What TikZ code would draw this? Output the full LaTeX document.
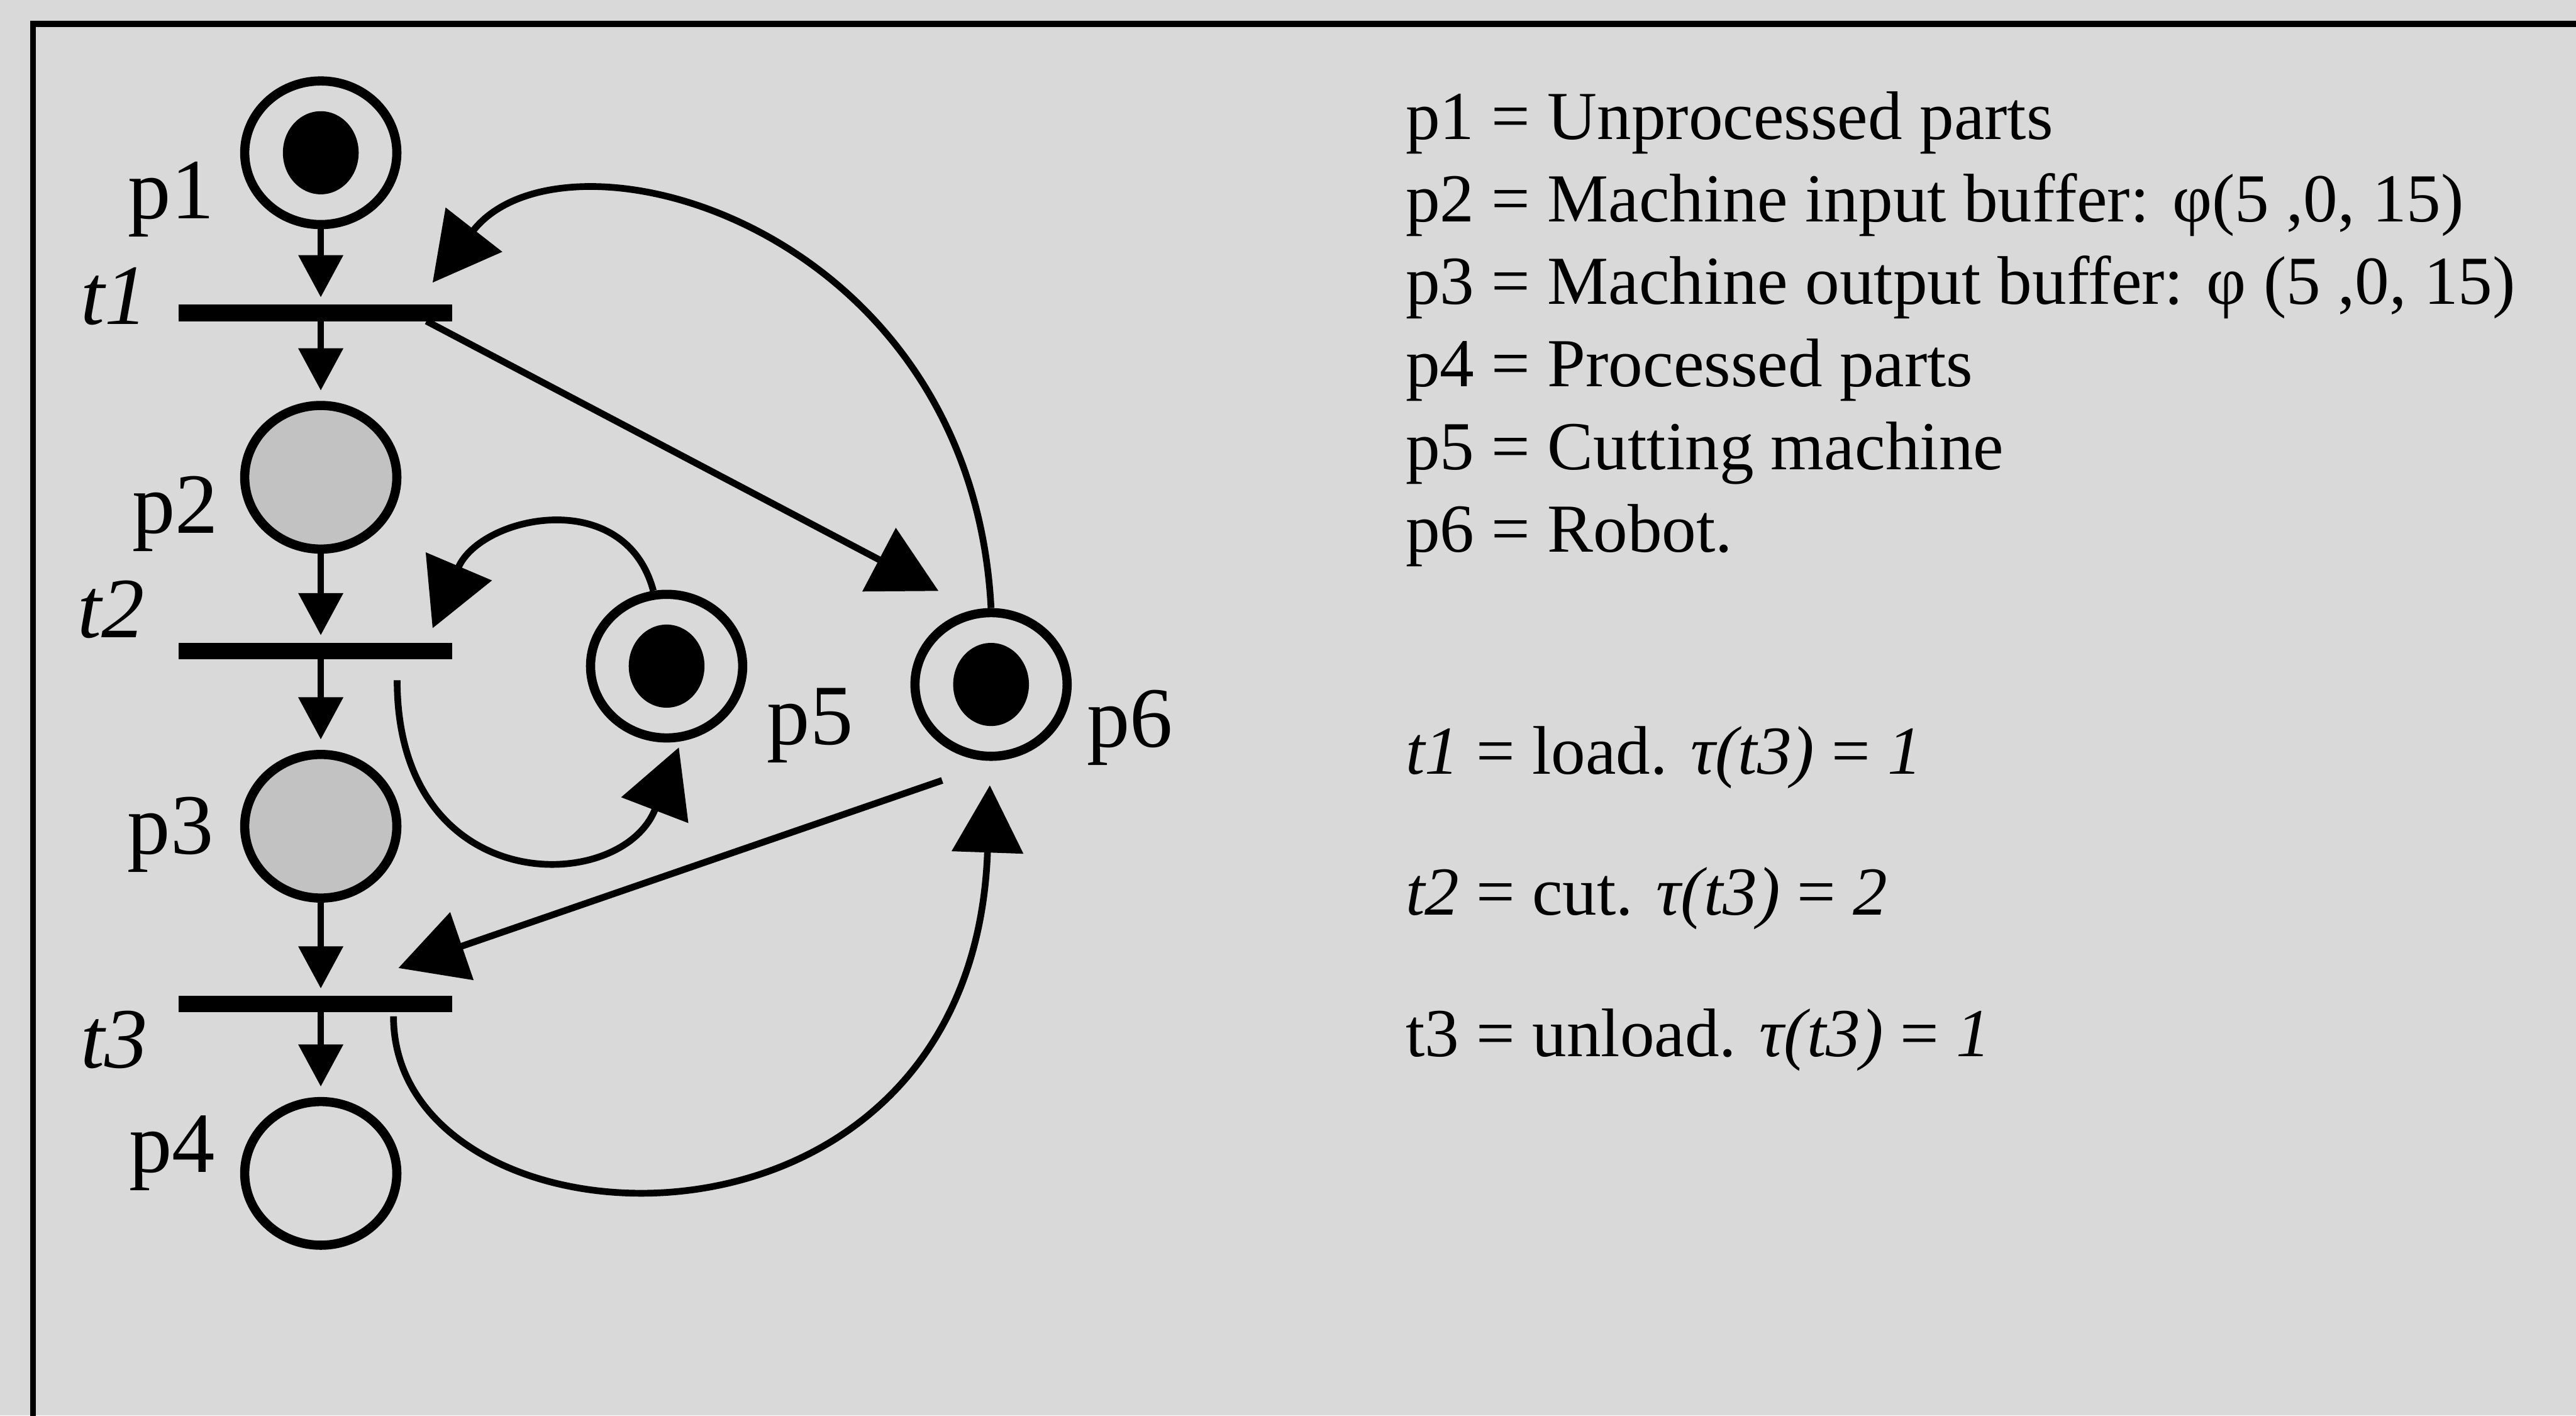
\documentclass[tikz,border=0pt]{standalone}
\usepackage{fontspec}
\setmainfont{Liberation Serif}
\usepackage{tikz}
\usetikzlibrary{arrows.meta,shapes.geometric}

\definecolor{paper}{gray}{0.85}
\definecolor{bufgray}{gray}{0.76}

\begin{document}
\begin{tikzpicture}[
    place/.style={ellipse, draw=black, line width=0.15cm, minimum width=2.49cm, minimum height=2.35cm, inner sep=0pt},
    marked/.style={path picture={\fill[black] (path picture bounding box.center) ellipse (0.62cm and 0.68cm);}},
    buffer/.style={fill=bufgray},
    transition/.style={rectangle, fill=black, minimum width=4.48cm, minimum height=0.27cm, inner sep=0pt, outer sep=0pt},
    lbl/.style={font=\fontsize{40}{48}\selectfont, inner sep=0pt},
    arc/.style={line width=0.11cm, -{Triangle[length=0.69cm,width=0.71cm]}},
    bigarc/.style={line width=0.11cm, -{Triangle[length=1.1cm,width=1.15cm]}},
    legend/.style={font=\fontsize{32}{38}\selectfont, anchor=base west, inner sep=0pt}]

   \useasboundingbox (0,0) rectangle (42.16,23.16);
   \fill[paper] (0,0) rectangle (42.16,23.16);
   \draw[line width=0.1cm] (0.54,-1) -- (0.54,22.77) -- (43,22.77);

   %places
   \node[place,marked] (p1) at (5.25,20.66) {};
   \node[place,buffer] (p2) at (5.25,15.35) {};
   \node[place,buffer] (p3) at (5.25,9.64) {};
   \node[place] (p4) at (5.25,3.96) {};
   \node[place,marked] (p5) at (10.91,12.26) {};
   \node[place,marked] (p6) at (16.22,11.96) {};

   %transitions
   \node[transition] (t1) at (5.16,18.04) {};
   \node[transition] (t2) at (5.16,12.51) {};
   \node[transition] (t3) at (5.16,6.73) {};

   %labels
   \node[lbl,anchor=base east] (lp1) at (3.51,19.58) {p1};
   \node[lbl,anchor=base east] (lp2) at (3.58,14.44) {p2};
   \node[lbl,anchor=base east] (lp3) at (3.50,9.19) {p3};
   \node[lbl,anchor=base east] (lp4) at (3.53,3.98) {p4};
   \node[lbl,anchor=base west] (lp5) at (12.55,10.98) {p5};
   \node[lbl,anchor=base west] (lp6) at (17.78,10.94) {p6};
   \node[lbl,anchor=base east] (lt1) at (2.42,17.85) {\itshape t1};
   \node[lbl,anchor=base east] (lt2) at (2.37,12.73) {\itshape t2};
   \node[lbl,anchor=base east] (lt3) at (2.42,5.69) {\itshape t3};

   %legend
   \node[legend] (d1) at (23.00,20.88) {p1 = Unprocessed parts};
   \node[legend] (d2) at (23.00,19.53) {p2 = Machine input buffer: φ(5 ,0, 15)};
   \node[legend] (d3) at (23.00,18.18) {p3 = Machine output buffer: φ (5 ,0, 15)};
   \node[legend] (d4) at (23.00,16.83) {p4 = Processed parts};
   \node[legend] (d5) at (23.00,15.48) {p5 = Cutting machine};
   \node[legend] (d6) at (23.00,14.13) {p6 = Robot.};
   \node[legend] (e1) at (23.00,10.49) {\textit{t1} = load. \textit{τ(t3)} = \textit{1}};
   \node[legend] (e2) at (23.00,8.19) {\textit{t2} = cut. \textit{τ(t3)} = \textit{2}};
   \node[legend] (e3) at (23.00,5.87) {t3 = unload. \textit{τ(t3)} = \textit{1}};

  \path
    %main line
    (p1.south) edge[arc, shorten >=0.12cm] (p1.south |- t1.north)
    (p2.north |- t1.south) edge[arc, shorten >=0.17cm] (p2.north)
    (p2.south) edge[arc, shorten >=0.12cm] (p2.south |- t2.north)
    (p3.north |- t2.south) edge[arc, shorten >=0.17cm] (p3.north)
    (p3.south) edge[arc, shorten >=0.12cm] (p3.south |- t3.north)
    (p4.north |- t3.south) edge[arc, shorten >=0.17cm] (p4.north)

    %robot loads
    ([xshift=-4.2mm]t1.south east) edge[bigarc] ([shift={(-0.86,1.53)}]p6.center)
    (p6.north) edge[bigarc, out=93, in=52, out distance=6.3cm, in distance=3.5cm]
         ([shift={(-0.32,0.36)}]t1.north east)

    %machine cuts
    (p5.100) edge[bigarc, out=105, in=67, out distance=1.8cm, in distance=2cm]
         ([shift={(-0.32,0.235)}]t2.north east)
    ([shift={(-0.9,-0.345)}]t2.south east) edge[bigarc, out=270, in=249, out distance=3.6cm, in distance=2.6cm]
         ([shift={(0.2,-1.33)}]p5.center)

    %robot unloads
    ([shift={(-0.8,-1.57)}]p6.center) edge[bigarc] ([shift={(-0.88,0.455)}]t3.north east)
    ([shift={(-0.96,-0.065)}]t3.south east) edge[bigarc, out=270, in=268, out distance=4cm, in distance=8.3cm]
         ([shift={(-0.02,-1.65)}]p6.center);
\end{tikzpicture}
\end{document}
